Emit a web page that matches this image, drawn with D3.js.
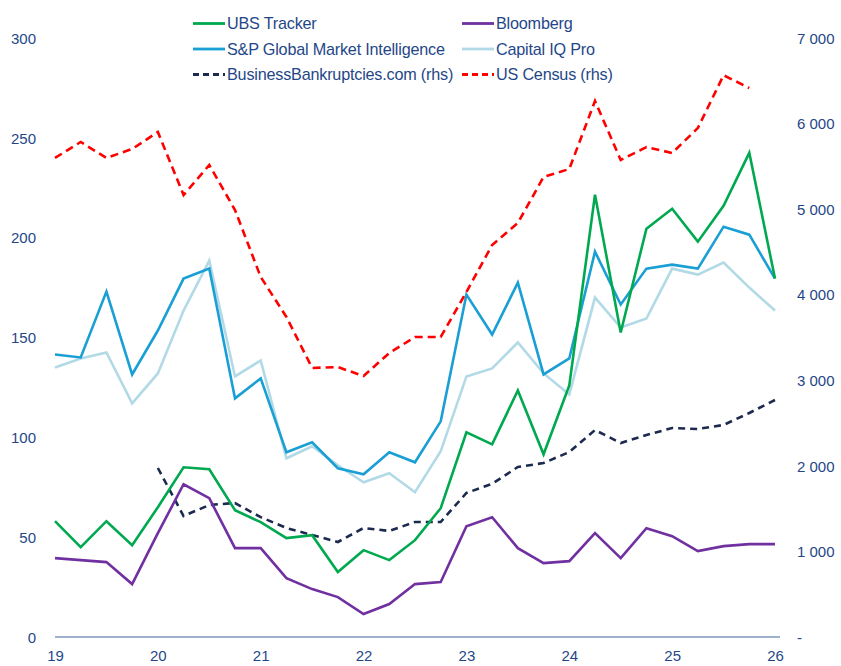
<!DOCTYPE html>
<html><head><meta charset="utf-8">
<script src="https://cdn.jsdelivr.net/npm/d3@7"></script>
<style>
body{margin:0;background:#fff;}
text{font-family:"Liberation Sans",Arial,sans-serif;fill:#1f4788;}
</style></head>
<body><svg id="c" width="841" height="666"></svg>
<script>
// quarters from 2019Q1 to 2026Q1 (x = year index)
const quarters = d3.range(29).map(i => 19 + i * 0.25);
const xTicks = [19, 20, 21, 22, 23, 24, 25, 26];
const leftTicks = [0, 50, 100, 150, 200, 250, 300];
const rightTicks = [0, 1000, 2000, 3000, 4000, 5000, 6000, 7000];

const ubs = [58,45,58,46,65,85,84,63.5,57.5,49.5,51,32.5,43.5,38.5,48.5,64.5,102.5,96.5,123.5,91.5,126,221.5,152.5,204.5,214.5,198,216,242.5,179.5];
const bloomberg = [39.5,38.5,37.5,26.5,52,76.5,69.5,44.5,44.5,29.5,24,20,11.5,16.5,26.5,27.5,55.5,60,44.5,37,38,52,39.5,54.5,50.5,43,45.5,46.5,46.5];
const spGlobal = [141.5,140,173,131.5,153.5,179.5,184.5,119.5,129.5,92.5,97.5,84.5,81.5,92.5,87.5,108,171.5,151.5,177.5,131.5,139.5,193,166.5,184.5,186.5,184.5,205.5,201.5,179.5];
const capIQ = [135,139.5,142.5,117,132,163.5,188.5,130.5,138.5,89.5,95.5,86,77.5,82,72.5,93,130.5,134.5,147.5,132,121.5,170,155,159.5,184.5,181.5,187.5,175,163.5];
const bbCom = [null,null,null,null,1975,1414,1543,1566,1400,1274,1192,1110,1274,1239,1344,1344,1683,1790,1987,2033,2162,2419,2267,2361,2442,2431,2478,2618,2770];
const census = [5598,5785,5598,5703,5902,5165,5516,4990,4207,3740,3144,3155,3050,3319,3506,3506,4032,4581,4838,5376,5469,6264,5574,5726,5656,5948,6565,6416,null];

const svg = d3.select("#c");
const x = d3.scaleLinear().domain([19, 26]).range([55, 775]);
const yL = d3.scaleLinear().domain([0, 300]).range([637, 38]);
const yR = d3.scaleLinear().domain([0, 7000]).range([637, 38]);

const series = [
  {name:"UBS Tracker", data:ubs, y:yL, color:"#00A94F", dash:null},
  {name:"Bloomberg", data:bloomberg, y:yL, color:"#7030A0", dash:null},
  {name:"S&P Global Market Intelligence", data:spGlobal, y:yL, color:"#1A9FD4", dash:null},
  {name:"Capital IQ Pro", data:capIQ, y:yL, color:"#B2DAE6", dash:null},
  {name:"BusinessBankruptcies.com (rhs)", data:bbCom, y:yR, color:"#1B2A4E", dash:"7,5"},
  {name:"US Census (rhs)", data:census, y:yR, color:"#FF0000", dash:"8,5"}
];

// axis line
svg.append("line").attr("x1", 55).attr("x2", 780).attr("y1", yL(0)).attr("y2", yL(0))
  .attr("stroke", "#3f64a0").attr("stroke-width", 1.2);

// left ticks
const gl = svg.append("g").attr("transform", "translate(36,0)")
  .call(d3.axisLeft(yL).tickValues(leftTicks).tickSize(0).tickPadding(0).tickFormat(d3.format("d")));
gl.select(".domain").remove();
gl.selectAll("text").style("font-size", "15px").attr("dy", "0.35em");

// right ticks
const fmtR = d => d === 0 ? "-" : d3.format(",")(d).replace(/,/g, " ");
const gr = svg.append("g").attr("transform", "translate(797,0)")
  .call(d3.axisRight(yR).tickValues(rightTicks).tickSize(0).tickPadding(0).tickFormat(fmtR));
gr.select(".domain").remove();
gr.selectAll("text").style("font-size", "15px").attr("dy", "0.35em");

// bottom ticks
const gb = svg.append("g").attr("transform", "translate(0,650)")
  .call(d3.axisBottom(x).tickValues(xTicks).tickSize(0).tickPadding(0).tickFormat(d3.format("d")));
gb.select(".domain").remove();
gb.selectAll("text").style("font-size", "15px");

// lines
const drawOrder = [3, 2, 4, 5, 1, 0];
drawOrder.forEach(k => {
  const s = series[k];
  const line = d3.line().defined(d => d[1] != null).x(d => x(d[0])).y(d => s.y(d[1]));
  svg.append("path").datum(quarters.map((q, i) => [q, s.data[i]]))
    .attr("d", line).attr("fill", "none").attr("stroke", s.color)
    .attr("stroke-width", 2.6).attr("stroke-linejoin", "miter")
    .attr("stroke-dasharray", s.dash);
});

// legend
const legPos = [[193,23.5],[462,23.5],[193,49],[462,49],[193,74.5],[462,74.5]];
series.forEach((s, i) => {
  const [lx, ly] = legPos[i];
  svg.append("line").attr("x1", lx).attr("x2", lx + 32).attr("y1", ly).attr("y2", ly)
    .attr("stroke", s.color).attr("stroke-width", 2.8)
    .attr("stroke-dasharray", s.dash ? "6,4" : null);
  svg.append("text").attr("x", lx + 34).attr("y", ly).attr("dy", "0.35em")
    .style("font-size", "16.2px").style("letter-spacing", "-0.2px").text(s.name);
});
</script></body></html>
